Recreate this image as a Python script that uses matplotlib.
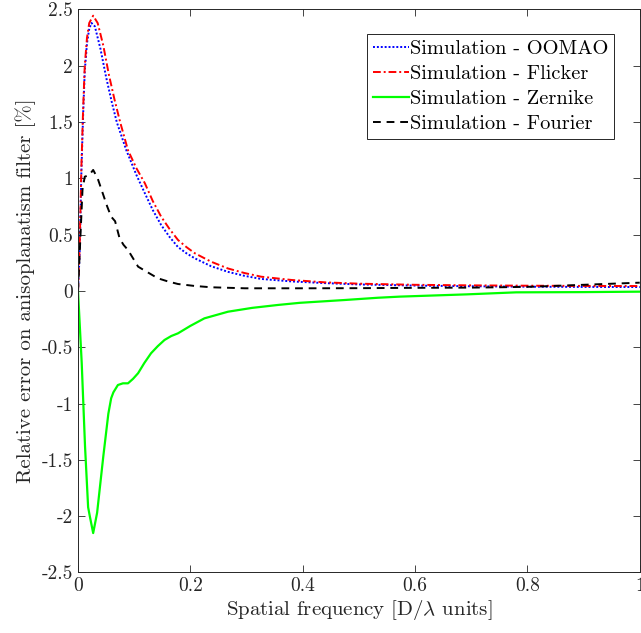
import numpy as np
import matplotlib
matplotlib.use("Agg")
import matplotlib.pyplot as plt

plt.rcParams['font.family'] = 'serif'
plt.rcParams['font.serif'] = ['cmr10']
plt.rcParams['mathtext.fontset'] = 'cm'
plt.rcParams['axes.unicode_minus'] = False

# OOMAO (blue dotted)
x_oomao = [0, 0.003, 0.006, 0.009, 0.012, 0.016, 0.02, 0.024, 0.03, 0.04, 0.05, 0.06, 0.069, 0.086,
           0.104, 0.119, 0.133, 0.148, 0.163, 0.178, 0.193, 0.208, 0.237, 0.267, 0.296, 0.326, 0.38,
           0.439, 0.5, 0.6, 0.7, 0.8, 0.9, 1.0]
y_oomao = [0, 0.35, 1.05, 1.55, 1.95, 2.2, 2.33, 2.38, 2.35, 2.15, 1.9, 1.68, 1.5, 1.25,
           1.03, 0.868, 0.72, 0.586, 0.48, 0.39, 0.335, 0.29, 0.22, 0.17, 0.135, 0.107, 0.085,
           0.07, 0.058, 0.048, 0.042, 0.038, 0.036, 0.035]

# Flicker (red dash-dot)
x_flicker = [0, 0.003, 0.006, 0.009, 0.012, 0.016, 0.02, 0.027, 0.035, 0.045, 0.055, 0.065, 0.075,
             0.089, 0.104, 0.119, 0.133, 0.148, 0.163, 0.178, 0.193, 0.208, 0.237, 0.267, 0.296,
             0.326, 0.38, 0.439, 0.5, 0.6, 0.7, 0.8, 0.9, 1.0]
y_flicker = [0, 0.4, 1.1, 1.6, 2.0, 2.25, 2.38, 2.445, 2.38, 2.18, 1.92, 1.7, 1.5,
             1.25, 1.09, 0.957, 0.8, 0.66, 0.55, 0.453, 0.39, 0.335, 0.26, 0.2, 0.16,
             0.127, 0.098, 0.077, 0.065, 0.055, 0.05, 0.047, 0.045, 0.044]

# Zernike (green solid)
x_zernike = [0, 0.0066, 0.0125, 0.018, 0.021, 0.027, 0.034, 0.045, 0.054, 0.059, 0.063, 0.071, 0.08,
             0.089, 0.098, 0.107, 0.118, 0.13, 0.142, 0.154, 0.166, 0.178, 0.2, 0.225, 0.267, 0.31,
             0.356, 0.395, 0.475, 0.534, 0.573, 0.692, 0.78, 0.9, 1.0]
y_zernike = [0, -0.64, -1.38, -1.92, -2.0, -2.15, -1.97, -1.47, -1.09, -0.953, -0.9, -0.835, -0.82,
             -0.82, -0.78, -0.73, -0.64, -0.553, -0.49, -0.435, -0.4, -0.376, -0.31, -0.243, -0.184, -0.15,
             -0.124, -0.105, -0.08, -0.06, -0.05, -0.03, -0.012, -0.01, -0.006]

# Fourier (black dashed)
x_fourier = [0, 0.004, 0.008, 0.012, 0.02, 0.027, 0.035, 0.044, 0.052, 0.059, 0.066, 0.074, 0.081,
             0.089, 0.098, 0.107, 0.125, 0.142, 0.16, 0.178, 0.207, 0.237, 0.297, 0.35, 0.415,
             0.5, 0.6, 0.7, 0.75, 0.81, 0.9, 1.0]
y_fourier = [0, 0.45, 0.9, 1.015, 1.03, 1.075, 1.0, 0.868, 0.75, 0.66, 0.62, 0.468, 0.41,
             0.364, 0.29, 0.216, 0.163, 0.113, 0.085, 0.062, 0.045, 0.033, 0.024, 0.024, 0.024,
             0.025, 0.028, 0.03, 0.033, 0.038, 0.055, 0.074]

yticks = [-2.5, -2, -1.5, -1, -0.5, 0, 0.5, 1, 1.5, 2, 2.5]
yticklabels = ['-2.5', '-2', '-1.5', '-1', '-0.5', '0', '0.5', '1', '1.5', '2', '2.5']
xticks = [0, 0.2, 0.4, 0.6, 0.8, 1]
xticklabels = ['0', '0.2', '0.4', '0.6', '0.8', '1']

fig = plt.figure(figsize=(6.41, 6.33), dpi=100)
ax = fig.add_axes([0.1217, 0.0956, 0.8763, 0.8894])

lw = 1.4
ax.plot(x_oomao, y_oomao, color='#0000ff', linestyle=(0, (1, 1)), linewidth=lw, label='Simulation - OOMAO')
ax.plot(x_flicker, y_flicker, color='#ff0000', linestyle=(0, (4, 1.5, 1, 1.5)), linewidth=lw, label='Simulation - Flicker')
ax.plot(x_zernike, y_zernike, color='#00ff00', linestyle='-', linewidth=lw + 0.2, label='Simulation - Zernike')
ax.plot(x_fourier, y_fourier, color='k', linestyle=(0, (4, 3)), linewidth=lw, label='Simulation - Fourier')

ax.set_xlim(0, 1)
ax.set_ylim(-2.5, 2.5)
ax.set_xticks(xticks)
ax.set_xticklabels(xticklabels)
ax.set_yticks(yticks)
ax.set_yticklabels(yticklabels)
ax.tick_params(direction='in', top=True, right=True, length=5, width=0.6,
               labelsize=14, colors='#262626')
for s in ax.spines.values():
    s.set_color('#262626')
    s.set_linewidth(0.7)

ax.set_xlabel(r'Spatial frequency [D/$\lambda$ units]', fontsize=15, color='#262626', labelpad=2)
ax.set_ylabel('Relative error on anisoplanatism filter [%]', fontsize=15, color='#262626', labelpad=4)

leg = ax.legend(loc='upper right', bbox_to_anchor=(0.955, 0.957), fontsize=14.7,
                fancybox=False, framealpha=1, edgecolor='#262626', handlelength=1.75,
                handletextpad=0.05, borderaxespad=0, labelspacing=0.33, borderpad=0.3)
leg.get_frame().set_linewidth(0.7)

fig.savefig('out.png', dpi=100)
